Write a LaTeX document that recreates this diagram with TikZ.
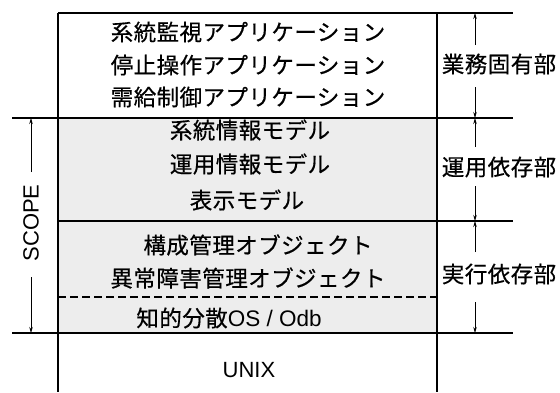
\documentclass[tikz,border=0pt]{standalone}
\usepackage{fontspec}
\setmainfont{Liberation Sans}
\newfontfamily\cjk[LetterSpace=2,FakeBold=0.5]{Noto Sans CJK JP}
\usetikzlibrary{arrows.meta}
\begin{document}
\begin{tikzpicture}[x=1pt,y=-1pt, line width=1.1pt,
  jp/.style={font=\cjk\fontsize{22.5}{26}\selectfont, inner sep=0pt},
  lat/.style={font=\rmfamily\fontsize{22}{26}\selectfont, inner sep=0pt},
  dim/.style={line width=0.7pt, -{Stealth[length=6pt,width=3.5pt]}},
  rule/.style={line width=1.1pt},
  dashrule/.style={line width=1.1pt, dash pattern=on 8pt off 4pt}]
\useasboundingbox (0,0) rectangle (560,392);
% stippled band
\fill[black!7] (58,118) rectangle (437,333);
% rules
\draw[rule] (58,13) -- (513,13);
\draw[rule] (12,118) -- (513,118);
\draw[rule] (58,221) -- (513,221);
\draw[dashrule] (58,297) -- (437,297);
\draw[rule] (12,333) -- (513,333);
\draw[rule] (58,13) -- (58,392);
\draw[rule] (437,13) -- (437,392);
% layer texts
\node[jp] (a1) at (248,32) {系統監視アプリケーション};
\node[jp] (a2) at (248,65) {停止操作アプリケーション};
\node[jp] (a3) at (248,97) {需給制御アプリケーション};
\node[jp] (m1) at (250,130) {系統情報モデル};
\node[jp] (m2) at (250,164) {運用情報モデル};
\node[jp] (m3) at (247,200) {表示モデル};
\node[jp] (o1) at (258,245) {構成管理オブジェクト};
\node[jp] (o2) at (248,278) {異常障害管理オブジェクト};
\node[jp] (os) at (229,318) {知的分散{\rmfamily OS / Odb}};
\node[lat] (unix) at (249,370) {UNIX};
% right labels
\node[jp] (L1) at (499,64) {業務固有部};
\node[jp] (L2) at (499,167) {運用依存部};
\node[jp] (L3) at (499,274) {実行依存部};
\coordinate (L1t) at (475,45);  \coordinate (L1T) at (475,13);
\coordinate (L1b) at (475,87);  \coordinate (L1B) at (475,118);
\coordinate (L2t) at (475,147); \coordinate (L2T) at (475,118);
\coordinate (L2b) at (475,186); \coordinate (L2B) at (475,221);
\coordinate (L3t) at (475,252); \coordinate (L3T) at (475,221);
\coordinate (L3b) at (475,302); \coordinate (L3B) at (475,333);
\draw[dim] (L1t) -- (L1T);
\draw[dim] (L1b) -- (L1B);
\draw[dim] (L2t) -- (L2T);
\draw[dim] (L2b) -- (L2B);
\draw[dim] (L3t) -- (L3T);
\draw[dim] (L3b) -- (L3B);
% SCOPE
\node[lat, rotate=90] (scope) at (31,223) {SCOPE};
\coordinate (St) at (31,172); \coordinate (ST) at (31,118);
\coordinate (Sb) at (31,277); \coordinate (SB) at (31,333);
\draw[dim] (St) -- (ST);
\draw[dim] (Sb) -- (SB);
\end{tikzpicture}
\end{document}
